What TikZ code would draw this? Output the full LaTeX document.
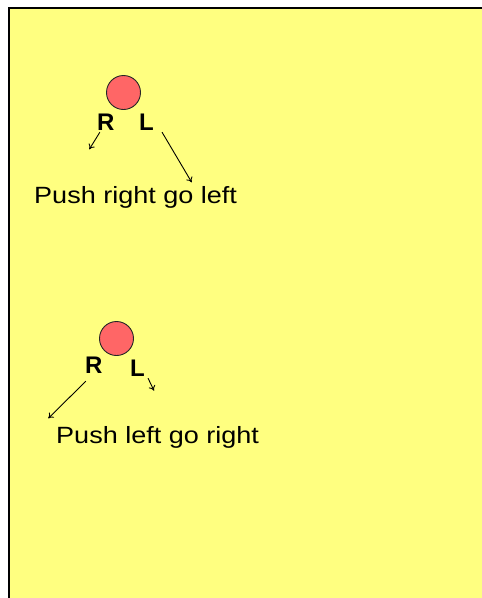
\documentclass[tikz,border=0pt]{standalone}
\usepackage{fontspec}
\setmainfont{Liberation Sans}
\newfontfamily\txtfont[FakeStretch=1.15]{Liberation Sans}
\usetikzlibrary{arrows.meta,calc}
\definecolor{bgyellow}{RGB}{255,255,128}
\definecolor{ballred}{RGB}{255,102,102}
\begin{document}
\begin{tikzpicture}[x=1pt,y=-1pt,
  ball/.style={circle,draw=black!85,line width=0.9pt,fill=ballred,minimum size=34pt,inner sep=0pt},
  letter/.style={font=\fontsize{24}{24}\selectfont\bfseries,inner sep=0pt,anchor=base west},
  caption/.style={font=\txtfont\fontsize{23.5}{23.5}\selectfont,inner sep=0pt,anchor=base west},
  arr/.style={line width=0.9pt,-{To[length=5pt,width=7pt]}}]
\useasboundingbox (0,0) rectangle (482,598);
\fill[bgyellow] (8,7) rectangle (492,608);
\draw[line width=2pt] (9,608) -- (9,8) -- (492,8);
% upper group
\node[ball] (ball1) at (123.5,92.5) {};
\node[letter] (r1) at (97,130) {R};
\node[letter] (l1) at (139,130) {L};
\coordinate (e1) at (89.3,149.3);
\coordinate (f1) at (191.7,182.3);
\draw[arr] ($(r1.south)+(-6,2)$) -- (e1);
\draw[arr] ($(l1.south east)+(8,2)$) -- (f1);
\node[caption] (t1) at (34,203) {Push right go left};
% lower group
\node[ball] (ball2) at (116.5,338.5) {};
\node[letter] (r2) at (85,373) {R};
\node[letter] (l2) at (130,376) {L};
\coordinate (e2) at (48.3,418.3);
\coordinate (f2) at (154,390.7);
\draw[arr] ($(r2.south)+(-8,8)$) -- (e2);
\draw[arr] ($(l2.south east)+(3,2)$) -- (f2);
\node[caption] (t2) at (56,443) {Push left go right};
\end{tikzpicture}
\end{document}
